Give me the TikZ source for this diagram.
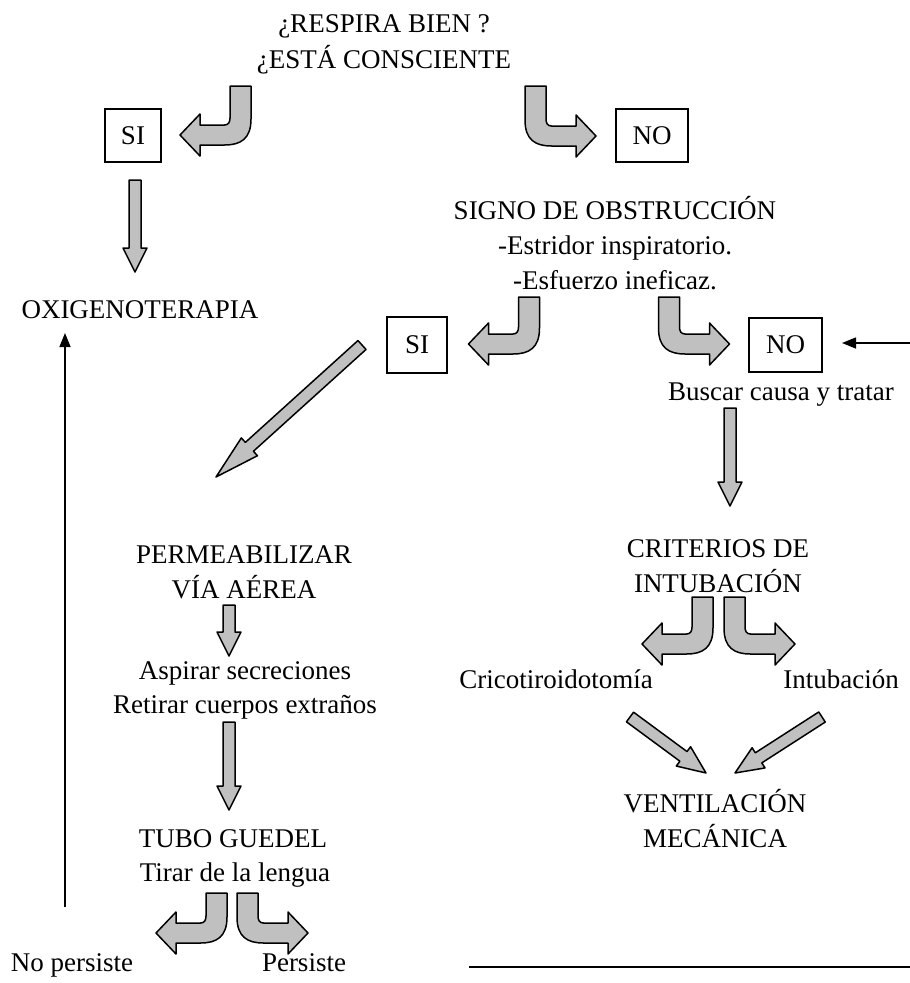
\documentclass[tikz,border=0pt]{standalone}
\usepackage{fontspec}
\setmainfont{Liberation Serif}
\usetikzlibrary{arrows.meta}
\definecolor{arrfill}{HTML}{C0C0C0}
\tikzset{
  txt/.style={anchor=base, inner sep=0pt, font=\fontsize{27}{32}\selectfont},
  ansbox/.style={draw, line width=1.5pt, inner sep=0pt, font=\fontsize{27}{32}\selectfont},
  blockarrow/.style={draw=black, fill=arrfill, line width=1.5pt, line join=round},
  thinarrow/.style={line width=1.5pt, -{Triangle[length=14pt,width=11pt]}},
  thinline/.style={line width=1.5pt}
}
% bent block arrow: #1 stem centre x, #2 stem top y, #3 direction (1 = left, -1 = right), #4 depth of shaft centre
\newcommand\bentarr[4]{%
  \begin{scope}[shift={(#1,#2)}, xscale=#3]
    \draw[blockarrow] (-10.5,0) -- (10.5,0) -- (10.5,#4-16)
      .. controls (10.5,#4+4) and (0,#4+10) .. (-16,#4+10)
      -- (-40.5,#4+10) -- (-40.5,#4+21) -- (-60.5,#4) -- (-40.5,#4-21)
      -- (-40.5,#4-10) -- (-16,#4-10)
      .. controls (-12,#4-10) and (-10.5,#4-13) .. (-10.5,#4-17) -- cycle;
  \end{scope}}
% straight block arrow from (#1,#2) to (#3,#4), head length #5
\newcommand\blockarr[5]{%
  \pgfmathsetmacro\bdx{#3-#1}%
  \pgfmathsetmacro\bdy{#4-#2}%
  \pgfmathsetmacro\blen{veclen(\bdx,\bdy)}%
  \pgfmathsetmacro\bang{atan2(-\bdy,\bdx)}%
  \begin{scope}[shift={(#1,#2)}, rotate=\bang]
    \draw[blockarrow] (0,-6) -- (\blen-#5,-6) -- (\blen-#5,-12) -- (\blen,0)
      -- (\blen-#5,12) -- (\blen-#5,6) -- (0,6) -- cycle;
  \end{scope}}
\begin{document}
\begin{tikzpicture}[x=1pt, y=-1pt]
\useasboundingbox (0,0) rectangle (910,983);

% title
\node[txt] (t1) at (384,32) {¿RESPIRA BIEN ?};
\node[txt] (t2) at (384,68) {¿ESTÁ CONSCIENTE};

% first level
\bentarr{240.5}{86}{1}{49}
\bentarr{535.5}{86}{-1}{50}
\node[ansbox, minimum width=56pt, minimum height=53pt] (si1) at (133,135.5) {SI};
\node[ansbox, minimum width=72pt, minimum height=53pt] (no1) at (652,135.5) {NO};

\blockarr{135}{180}{135}{272}{24}
\node[txt] (oxi) at (140,318) {OXIGENOTERAPIA};

% obstruction
\node[txt] (sg1) at (615,219) {SIGNO DE OBSTRUCCIÓN};
\node[txt] (sg2) at (615,254) {-Estridor inspiratorio.};
\node[txt] (sg3) at (615,289) {-Esfuerzo ineficaz.};

\bentarr{529}{297}{1}{47}
\bentarr{669}{297}{-1}{47}
\node[ansbox, minimum width=60pt, minimum height=56pt] (si2) at (417,345) {SI};
\node[ansbox, minimum width=73pt, minimum height=54pt] (no2) at (785.5,345) {NO};

% right thin arrow into NO
\coordinate (rin) at (910,343);
\coordinate (rtip) at (842,343);
\draw[thinarrow] (rin) -- (rtip);
\node[txt] (busc) at (781,400) {Buscar causa y tratar};

% left branch
\blockarr{362}{345}{216}{477}{45}
\node[txt] (perm1) at (244,563) {PERMEABILIZAR};
\node[txt] (perm2) at (244,598) {VÍA AÉREA};
\blockarr{229}{605}{229}{656}{24}
\node[txt] (asp1) at (245,679) {Aspirar secreciones};
\node[txt] (asp2) at (245,713) {Retirar cuerpos extraños};
\blockarr{229}{722}{229}{810}{24}
\node[txt] (tubo1) at (233,847) {TUBO GUEDEL};
\node[txt] (tubo2) at (235,881) {Tirar de la lengua};
\bentarr{216.5}{893}{1}{40}
\bentarr{247.5}{893}{-1}{40}
\node[txt] (nop) at (72,971) {No persiste};
\node[txt] (per) at (304,971) {Persiste};

% feedback lines
\coordinate (fbA) at (65,907);
\coordinate (fbB) at (65,333);
\draw[thinarrow] (fbA) -- (fbB);
\coordinate (btA) at (469,967);
\coordinate (btB) at (910,967);
\draw[thinline] (btA) -- (btB);

% right branch
\blockarr{730}{408}{730}{506}{24}
\node[txt] (crit1) at (718,557) {CRITERIOS DE};
\node[txt] (crit2) at (718,592) {INTUBACIÓN};
\bentarr{702.5}{597}{1}{47}
\bentarr{734.5}{597}{-1}{47}
\node[txt] (crico) at (556,688) {Cricotiroidotomía};
\node[txt] (intu) at (841,688) {Intubación};
\blockarr{630}{717}{706}{773}{28}
\blockarr{822}{717}{735}{773}{28}
\node[txt] (vent1) at (715,812) {VENTILACIÓN};
\node[txt] (vent2) at (715,847) {MECÁNICA};
\end{tikzpicture}
\end{document}
